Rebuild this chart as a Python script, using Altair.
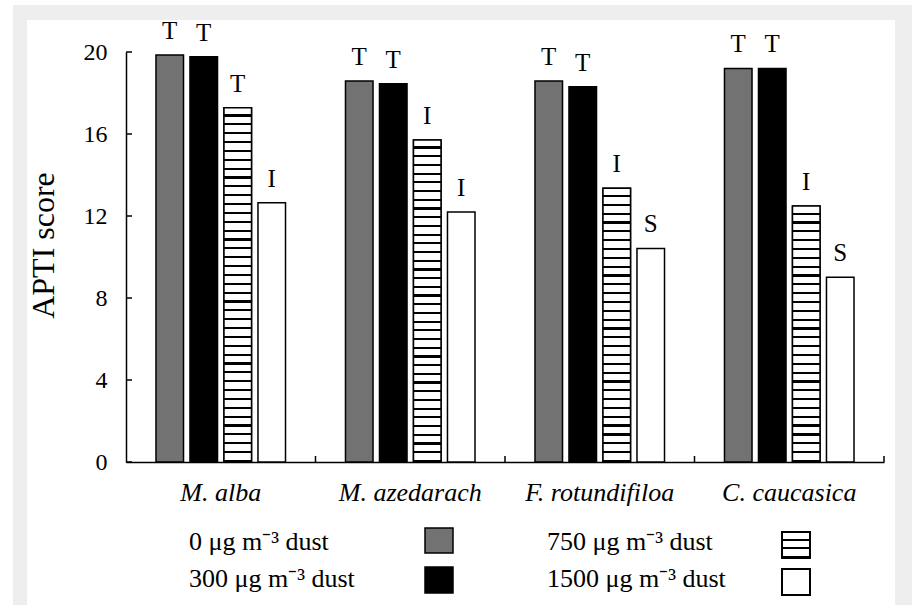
import altair as alt
import pandas as pd

# ---------------- data ----------------
species = ["M. alba", "M. azedarach", "F. rotundifiloa", "C. caucasica"]
dust_levels = ["0", "300", "750", "1500"]
apti_0 = [19.85, 18.59, 18.59, 19.20]
apti_300 = [19.77, 18.45, 18.31, 19.20]
apti_750 = [17.28, 15.71, 13.35, 12.49]
apti_1500 = [12.65, 12.20, 10.42, 9.01]
class_0 = ["T", "T", "T", "T"]
class_300 = ["T", "T", "T", "T"]
class_750 = ["T", "I", "I", "I"]
class_1500 = ["I", "I", "S", "S"]
legend_labels = ["0 μg m⁻³ dust", "300 μg m⁻³ dust", "750 μg m⁻³ dust", "1500 μg m⁻³ dust"]
y_ticks = [0, 4, 8, 12, 16, 20]

rows = []
for lvl, vals, cls in zip(dust_levels,
                          [apti_0, apti_300, apti_750, apti_1500],
                          [class_0, class_300, class_750, class_1500]):
    for sp, v, c in zip(species, vals, cls):
        rows.append({"species": sp, "dust": lvl, "apti": v, "cls": c})
df = pd.DataFrame(rows)
tick_df = pd.DataFrame({"apti": y_ticks})
sp_df = pd.DataFrame({"species": species})
dummy = pd.DataFrame({"k": [0]})

FONT = "Liberation Serif"
GRAY = "#727272"
FRAME = "#eeeeee"
PX_PER_UNIT = 410 / 20.0
STRIPE_PX = 8.8


def stripes(n, t=0.25):
    stops = []
    for k in range(n):
        a = k / n
        b = (k + 1 - t) / n
        c = (k + 1) / n
        stops += [alt.GradientStop(color="white", offset=a),
                  alt.GradientStop(color="white", offset=b),
                  alt.GradientStop(color="black", offset=b),
                  alt.GradientStop(color="black", offset=c)]
    return alt.Gradient(gradient="linear", stops=stops, x1=0, x2=0, y1=0, y2=1)


# ---------------- encodings ----------------
x_scale = alt.Scale(domain=species, paddingInner=0, paddingOuter=0)
X = alt.X("species:N", sort=species, scale=x_scale, title=None,
          axis=alt.Axis(labelAngle=0))
X_edge = alt.X("species:N", sort=species, scale=x_scale, title=None, bandPosition=1,
               axis=alt.Axis(labelAngle=0))
XO = alt.XOffset("dust:N", sort=dust_levels,
                 scale=alt.Scale(domain=dust_levels, paddingInner=0.19, paddingOuter=0.882))
Y = alt.Y("apti:Q", scale=alt.Scale(domain=[0, 20], nice=False, zero=True),
          title="APTI score", axis=alt.Axis(values=y_ticks))

# ---------------- background frame ----------------
frame_left = alt.Chart(dummy).mark_rect(fill=FRAME).encode(
    x=alt.value(-113), x2=alt.value(-99), y=alt.value(-47), y2=alt.value(560))
frame_top = alt.Chart(dummy).mark_rect(fill=FRAME).encode(
    x=alt.value(-113), x2=alt.value(786), y=alt.value(-47), y2=alt.value(-32))
frame_right = alt.Chart(dummy).mark_rect(fill=FRAME).encode(
    x=alt.value(769), x2=alt.value(786), y=alt.value(-47), y2=alt.value(560))

# ---------------- bars ----------------
bars = alt.Chart(df).mark_bar(stroke="black", strokeWidth=1.5).encode(
    x=X, xOffset=XO, y=Y,
    fill=alt.Fill("dust:N", scale=alt.Scale(domain=dust_levels,
                                            range=[GRAY, "black", "white", "white"]),
                  legend=None))

stripe_layers = []
for sp, v in zip(species, apti_750):
    n = max(1, round(v * PX_PER_UNIT / STRIPE_PX))
    stripe_layers.append(
        alt.Chart(df).transform_filter(
            (alt.datum.dust == "750") & (alt.datum.species == sp)
        ).mark_bar(fill=stripes(n), stroke="black", strokeWidth=1.5).encode(
            x=X, xOffset=XO, y=Y))

labels = alt.Chart(df).mark_text(font=FONT, fontSize=25, color="black",
                                 baseline="alphabetic", dy=-16).encode(
    x=X, xOffset=XO, y=Y, text="cls:N")

# inward ticks
yticks = alt.Chart(tick_df).mark_rule(color="black", strokeWidth=1.5).encode(
    y=Y, x=alt.value(0), x2=alt.value(6))
xticks = alt.Chart(sp_df).mark_rule(color="black", strokeWidth=1.5).encode(
    x=X_edge, y=alt.value(410), y2=alt.value(404))

# ---------------- custom legend ----------------
leg_pos = [(63, 498), (63, 535), (421, 498), (421, 535)]
leg_text = [alt.Chart(dummy).mark_text(text=lab, font=FONT, fontSize=26, color="black",
                                       align="left", baseline="alphabetic").encode(
    x=alt.value(px), y=alt.value(py)) for lab, (px, py) in zip(legend_labels, leg_pos)]

sw0 = alt.Chart(dummy).mark_rect(fill=GRAY, stroke="black", strokeWidth=1.5).encode(
    x=alt.value(299), x2=alt.value(327), y=alt.value(476), y2=alt.value(501))
sw300 = alt.Chart(dummy).mark_rect(fill="black", stroke="black", strokeWidth=1.5).encode(
    x=alt.value(299), x2=alt.value(327), y=alt.value(515), y2=alt.value(541))
sw750 = alt.Chart(dummy).mark_rect(fill=stripes(3, 0.22), stroke="black", strokeWidth=2).encode(
    x=alt.value(656), x2=alt.value(684), y=alt.value(480), y2=alt.value(506))
sw1500 = alt.Chart(dummy).mark_rect(fill="white", stroke="black", strokeWidth=2).encode(
    x=alt.value(656), x2=alt.value(684), y=alt.value(517), y2=alt.value(543))

chart = alt.layer(
    frame_left, frame_top, frame_right,
    bars, *stripe_layers, labels, yticks, xticks,
    *leg_text, sw0, sw300, sw750, sw1500
).properties(
    width=758, height=410,
    padding={"left": 126, "top": 52, "right": 28, "bottom": 143},
    autosize=alt.AutoSizeParams(type="none"),
    background="white",
).configure_view(
    stroke=None
).configure_axis(
    grid=False, ticks=False, domain=True, domainColor="black", domainWidth=1.5,
    labelFont=FONT, labelColor="black", titleFont=FONT, titleColor="black",
    titleFontWeight="normal",
).configure_axisX(
    labelFontSize=26, labelFontStyle="italic", labelBaseline="alphabetic",
    labelPadding=38, labelAngle=0,
).configure_axisY(
    labelFontSize=24, labelPadding=19, titleFontSize=32, titleAngle=-90,
    titleX=-73, titleY=193, titleAlign="center", titleBaseline="alphabetic",
)

chart.save("out.html", embed_options={"renderer": "svg", "actions": False})
